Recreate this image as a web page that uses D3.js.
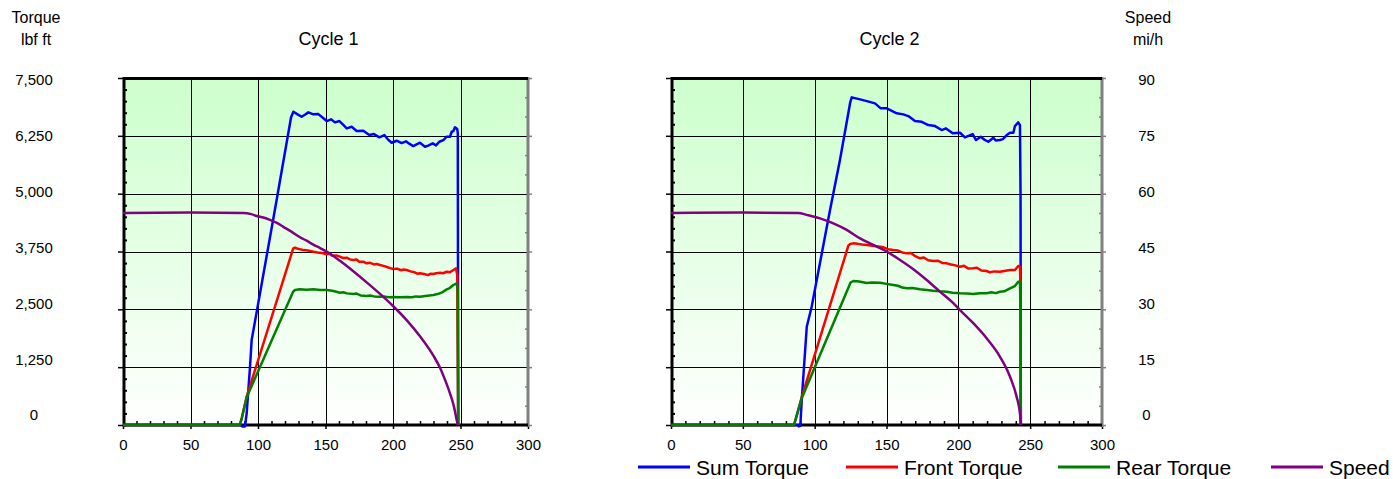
<!DOCTYPE html>
<html>
<head>
<meta charset="utf-8">
<script src="https://cdn.jsdelivr.net/npm/d3@7"></script>
<style>
  body { margin: 0; background: #fff; }
  svg { display: block; }
  text { font-family: "Liberation Sans", Arial, sans-serif; fill: #000; }
</style>
</head>
<body>
<svg id="chart" width="1393" height="479"></svg>
<script>
// ---- axis ticks and labels ----
const torqueTicks = [0, 1250, 2500, 3750, 5000, 6250, 7500];
const speedTicks = [0, 15, 30, 45, 60, 75, 90];
const timeTicks = [0, 50, 100, 150, 200, 250, 300];
const cycleTitles = ["Cycle 1", "Cycle 2"];
const seriesNames = ["Sum Torque", "Front Torque", "Rear Torque", "Speed"];
const seriesColors = ["#0000ff", "#ff0000", "#008000", "#800080"];

// ---- Cycle 1: [time, value] ----
const sumTorque1 = [[0,0],[87,0],[88.5,-30],[90.4,-30],[91.6,253],[94.1,1260],[95.3,1837],[99,2440],[113.8,4862],[124.5,6650],[126.2,6770],
  [129,6720],[132.3,6662],[135,6710],[137.3,6757],[141,6714],[144.7,6720],[148,6640],[150.9,6569],[154.1,6606],[157,6541],[160.3,6569],
  [163,6490],[165.7,6411],[169.4,6446],[173.1,6353],[178,6360],[182.5,6267],[185.9,6288],[189.9,6217],[193.6,6267],[196,6180],[199,6101],
  [202.7,6144],[206.4,6094],[209.6,6131],[212,6080],[215,6029],[220,6101],[223.7,6014],[226,6040],[229.4,6087],[231.9,6044],[234.3,6122],
  [237.3,6159],[239.8,6231],[242.2,6231],[243.5,6339],[244.7,6353],[245.9,6433],[247.6,6397],[248,6300],[248.3,0]];
const frontTorque1 = [[0,0],[86.5,0],[88,150],[91.6,611],[126,3810],[127.4,3832],[129,3815],[131.1,3797],[134,3780],[137,3770],[141,3746],
  [144,3730],[147,3720],[150.9,3689],[153,3700],[155,3660],[158,3665],[160.7,3638],[163,3610],[166,3615],[168,3580],[170.6,3566],[173,3575],
  [175,3530],[178,3530],[180.5,3494],[183,3505],[186,3470],[188,3480],[190.4,3458],[193,3440],[196,3410],[198,3390],[200.2,3371],[203,3380],
  [206,3345],[208,3360],[210.1,3350],[213,3320],[216,3300],[218,3270],[220,3278],[223,3265],[226,3240],[228,3270],[229.9,3263],[232,3280],
  [235,3290],[237,3280],[239.8,3313],[242,3300],[244.7,3350],[246.7,3386],[247.6,3242],[248.3,0]];
const rearTorque1 = [[0,0],[86.5,0],[88,150],[91.6,600],[126,2880],[127.4,2917],[131,2932],[136,2925],[141,2932],[146,2920],[150.9,2917],
  [155,2900],[158,2880],[160.7,2860],[163,2870],[166,2845],[170.6,2831],[173,2840],[176,2800],[180.5,2788],[183,2800],[186,2780],[190.4,2773],
  [194,2775],[197,2760],[200.2,2766],[205,2760],[210.1,2766],[214,2760],[217,2780],[220,2773],[224,2790],[227,2800],[229.9,2809],[233,2830],
  [236,2860],[239.8,2932],[242,2960],[244.7,3026],[247.2,3062],[248,2900],[248.3,0]];
const speed1 = [[0,55],[50,55.1],[89,55],[95,54.7],[99,54.2],[104,53.8],[108.9,53.2],[114,52.4],[118.8,51.4],[125,50.1],[131.1,48.7],
  [136,47.8],[141,46.8],[146,45.9],[150.9,45],[160.7,42.6],[170.6,39.9],[180.5,37.0],[190.4,34.0],[200.2,30.8],[210.1,27.2],[220,23.0],
  [229.9,18.0],[235,14.7],[237.3,12.8],[242.2,8.2],[245.2,4.7],[247.2,1.3],[248,0]];

// ---- Cycle 2: [time, value] ----
const sumTorque2 = [[0,0],[88,0],[89,-30],[90,-20],[91,540],[94.5,2124],[97.9,2556],[110.7,4646],[117.6,5727],[124.8,6980],[125.8,7081],
  [131.6,7038],[137,6995],[142,6952],[146,6844],[150.1,6844],[153,6800],[157.1,6736],[161.7,6714],[165.2,6677],[169.8,6569],[174.5,6554],
  [179.1,6483],[183.8,6461],[188.4,6375],[191.4,6411],[196.1,6304],[201.2,6317],[204.6,6217],[210,6288],[212.3,6159],[215.6,6231],[218,6170],
  [220.9,6122],[224.4,6209],[226,6150],[229,6159],[231,6180],[233.7,6267],[236,6317],[238.3,6317],[239.4,6461],[241.7,6541],[242.9,6483],
  [243.3,5000],[243.5,0]];
const frontTorque2 = [[0,0],[85.6,0],[87,150],[91,600],[123.5,3880],[124.6,3911],[126.9,3926],[130,3915],[133,3900],[136.2,3890],[139,3880],
  [142,3870],[145.5,3853],[148,3840],[151,3800],[154.7,3782],[158,3770],[161,3730],[164.1,3710],[167,3720],[170,3650],[173.3,3602],[176,3620],
  [179,3560],[182.6,3544],[186,3550],[189,3500],[191.9,3494],[195,3470],[198,3450],[201.2,3421],[204,3440],[207,3380],[210.4,3386],[213,3400],
  [216,3340],[219.7,3328],[222,3300],[225,3320],[229,3313],[232,3330],[236,3350],[239.4,3350],[241.7,3436],[242.9,3421],[243.3,3000],[243.5,0]];
const rearTorque2 = [[0,0],[85.6,0],[87,150],[91,580],[125,3080],[126.9,3112],[131,3100],[136.2,3069],[140,3080],[145.5,3075],[150,3050],
  [154.7,3026],[158,3010],[161,2970],[164.1,2954],[168,2960],[173.3,2932],[178,2920],[182.6,2902],[187,2890],[191.9,2881],[196,2860],
  [201.2,2846],[206,2840],[210.4,2831],[215,2850],[219.7,2846],[223,2870],[226,2850],[229,2881],[232,2890],[236,2954],[239.4,3004],
  [241.7,3097],[242.9,3097],[243.3,2500],[243.5,0]];
const speed2 = [[0,55],[50,55.1],[88.6,55],[94.5,54.5],[103.7,53.6],[113,52.3],[122.3,50.6],[131.6,48.4],[140.8,46.7],[150.1,45],
  [159.4,42.8],[168.7,40.4],[178,37.6],[187.2,34.6],[196.5,31.6],[201.2,29.8],[210.4,26.4],[219.7,22.5],[229,17.7],[236,12.5],[240.6,7.3],
  [242.9,3],[243.6,0]];

const cycles = [
  { title: cycleTitles[0], torque: [sumTorque1, frontTorque1, rearTorque1], speed: speed1 },
  { title: cycleTitles[1], torque: [sumTorque2, frontTorque2, rearTorque2], speed: speed2 }
];

// ---- layout ----
const svg = d3.select("#chart");
const plotTop = 78, plotBottom = 425;
const panels = [{ x0: 123, x1: 528 }, { x0: 671, x1: 1102 }];
const gray = "#808080";

const defs = svg.append("defs");
const grad = defs.append("linearGradient").attr("id", "plotBg")
  .attr("x1", 0).attr("y1", 0).attr("x2", 0).attr("y2", 1);
grad.append("stop").attr("offset", "0%").attr("stop-color", "#ccffcc");
grad.append("stop").attr("offset", "100%").attr("stop-color", "#ffffff");

const yT = d3.scaleLinear().domain([0, 7500]).range([plotBottom, plotTop]);
const yS = d3.scaleLinear().domain([0, 90]).range([plotBottom, plotTop]);
// label columns sit slightly tighter than the grid
const yLabT = d3.scaleLinear().domain([0, 7500]).range([415, 80]);
const yLabS = d3.scaleLinear().domain([0, 90]).range([415, 80]);

const minorTorque = d3.range(0, 7501, 250).filter(v => v % 1250 !== 0);
const minorSpeed = d3.range(0, 91, 5).filter(v => v % 15 !== 0);
const minorTime = d3.range(0, 301, 10).filter(v => v % 50 !== 0);

function styleAxis(g, color, width) {
  g.select(".domain").remove();
  g.selectAll(".tick line").attr("stroke", color).attr("stroke-width", width);
}

cycles.forEach((cyc, i) => {
  const p = panels[i];
  const x = d3.scaleLinear().domain([0, 300]).range([p.x0, p.x1]);
  const g = svg.append("g");

  // plot background
  g.append("rect").attr("x", p.x0).attr("y", plotTop)
    .attr("width", p.x1 - p.x0).attr("height", plotBottom - plotTop)
    .attr("fill", "url(#plotBg)");

  // grid
  g.append("g").selectAll("line").data(timeTicks.slice(1, -1)).join("line")
    .attr("x1", d => Math.round(x(d)) + 0.5).attr("x2", d => Math.round(x(d)) + 0.5)
    .attr("y1", plotTop).attr("y2", plotBottom).attr("stroke", "#000").attr("stroke-width", 1);
  g.append("g").selectAll("line").data(torqueTicks.slice(1, -1)).join("line")
    .attr("x1", p.x0).attr("x2", p.x1)
    .attr("y1", d => Math.round(yT(d)) + 0.5).attr("y2", d => Math.round(yT(d)) + 0.5)
    .attr("stroke", "#000").attr("stroke-width", 1);

  // bottom axis: major ticks outward, minor inward
  const xb = g.append("g").attr("transform", `translate(0,${plotBottom})`)
    .call(d3.axisBottom(x).tickValues(timeTicks).tickSize(4).tickPadding(10).tickFormat(d3.format("d")));
  styleAxis(xb, "#000", 1.5);
  xb.selectAll(".tick text").attr("font-size", 15).attr("font-family", "Liberation Sans, Arial, sans-serif").attr("fill", "#000");
  const xbm = g.append("g").attr("transform", `translate(0,${plotBottom})`)
    .call(d3.axisBottom(x).tickValues(minorTime).tickSize(-4).tickFormat(""));
  styleAxis(xbm, "#000", 1.5);

  // left axis ticks
  const yl = g.append("g").attr("transform", `translate(${p.x0},0)`)
    .call(d3.axisLeft(yT).tickValues(torqueTicks).tickSize(5).tickFormat(""));
  styleAxis(yl, "#000", 1.5);
  const ylm = g.append("g").attr("transform", `translate(${p.x0},0)`)
    .call(d3.axisLeft(yT).tickValues(minorTorque).tickSize(-4).tickFormat(""));
  styleAxis(ylm, "#000", 2);

  // right axis ticks (speed)
  const yr = g.append("g").attr("transform", `translate(${p.x1},0)`)
    .call(d3.axisRight(yS).tickValues(speedTicks).tickSize(4).tickFormat(""));
  styleAxis(yr, gray, 1.5);
  const yrm = g.append("g").attr("transform", `translate(${p.x1},0)`)
    .call(d3.axisRight(yS).tickValues(minorSpeed).tickSize(-3).tickFormat(""));
  styleAxis(yrm, gray, 1.5);

  // frame
  g.append("line").attr("x1", p.x1).attr("x2", p.x1).attr("y1", plotTop - 1).attr("y2", plotBottom + 2)
    .attr("stroke", gray).attr("stroke-width", 3);
  g.append("line").attr("x1", p.x0).attr("x2", p.x1).attr("y1", plotTop + 0.5).attr("y2", plotTop + 0.5)
    .attr("stroke", "#000").attr("stroke-width", 3);
  g.append("line").attr("x1", p.x0 + 1).attr("x2", p.x0 + 1).attr("y1", plotTop - 1).attr("y2", plotBottom + 1.5)
    .attr("stroke", "#000").attr("stroke-width", 3);
  g.append("line").attr("x1", p.x0).attr("x2", p.x1).attr("y1", plotBottom).attr("y2", plotBottom)
    .attr("stroke", "#000").attr("stroke-width", 3);

  // series: torque traces straight between samples, speed smoothed
  const lineT = d3.line().x(d => x(d[0])).y(d => yT(d[1]));
  const lineS = d3.line().x(d => x(d[0])).y(d => yS(d[1])).curve(d3.curveMonotoneX);
  cyc.torque.forEach((s, k) => {
    g.append("path").attr("d", lineT(s)).attr("fill", "none")
      .attr("stroke", seriesColors[k]).attr("stroke-width", 2.5).attr("stroke-linejoin", "round");
  });
  g.append("path").attr("d", lineS(cyc.speed)).attr("fill", "none")
    .attr("stroke", seriesColors[3]).attr("stroke-width", 2.5).attr("stroke-linejoin", "round");

  // title
  g.append("text").attr("x", (p.x0 + p.x1) / 2 + 3).attr("y", 45)
    .attr("text-anchor", "middle").attr("font-size", 18).text(cyc.title);
});

// left torque labels
svg.append("g").selectAll("text").data(torqueTicks).join("text")
  .attr("x", 34).attr("y", d => yLabT(d) + 5.4)
  .attr("text-anchor", "middle").attr("font-size", 15)
  .text(d => d3.format(",")(d));
svg.append("text").attr("x", 36).attr("y", 22.7).attr("text-anchor", "middle").attr("font-size", 16).text("Torque");
svg.append("text").attr("x", 36).attr("y", 44.7).attr("text-anchor", "middle").attr("font-size", 16).text("lbf ft");

// right speed labels
svg.append("g").selectAll("text").data(speedTicks).join("text")
  .attr("x", 1146.5).attr("y", d => yLabS(d) + 5.4)
  .attr("text-anchor", "middle").attr("font-size", 15)
  .text(d => d);
svg.append("text").attr("x", 1148).attr("y", 22.7).attr("text-anchor", "middle").attr("font-size", 16).text("Speed");
svg.append("text").attr("x", 1148).attr("y", 44.7).attr("text-anchor", "middle").attr("font-size", 16).text("mi/h");

// legend
const legendX = [638, 846, 1058, 1271];
const legendY = 467;
const lg = svg.append("g").selectAll("g").data(seriesNames).join("g")
  .attr("transform", (d, i) => `translate(${legendX[i]},${legendY})`);
lg.append("line").attr("x1", 0).attr("x2", 52).attr("y1", 0).attr("y2", 0)
  .attr("stroke", (d, i) => seriesColors[i]).attr("stroke-width", 3);
lg.append("text").attr("x", 58).attr("y", 7.5).attr("font-size", 21).text(d => d);
</script>
</body>
</html>
